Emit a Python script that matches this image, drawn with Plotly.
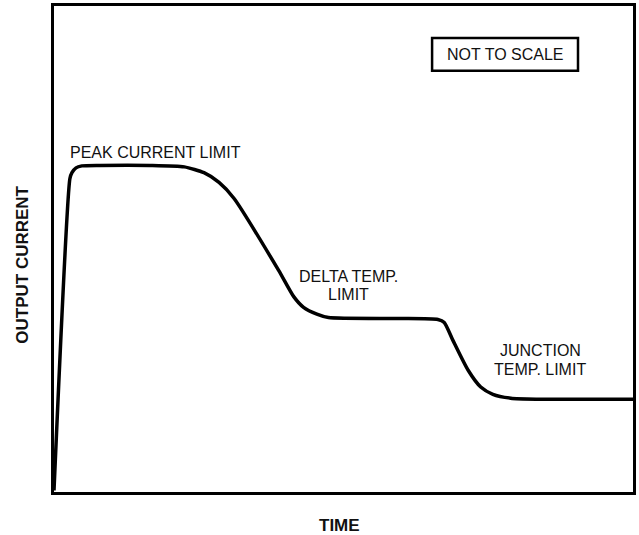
import plotly.graph_objects as go

# Curve (time in % of axis, output current in % of axis)
time_pts = [0.0, 2.75, 3.1, 3.8, 4.8, 7.9, 16.5, 22.5, 25.9, 28.5, 31.1, 38.8,
            41.4, 43.1, 45.4, 47.4, 59.5, 66.3, 67.4, 68.9, 71.5, 73.7, 75.8,
            78.9, 83.5, 100.0]
current_pts = [0.3, 64.5, 65.7, 66.7, 67.1, 67.2, 67.2, 66.9, 65.7, 63.7, 60.4, 45.6,
               40.2, 38.0, 36.6, 35.9, 35.7, 35.5, 34.9, 31.2, 25.1, 21.6, 20.1,
               19.3, 19.1, 19.1]

x_title = "TIME"
y_title = "OUTPUT CURRENT"
note_text = "NOT TO SCALE"
region_labels = ["PEAK CURRENT LIMIT", "DELTA TEMP.", "LIMIT", "JUNCTION", "TEMP. LIMIT"]
label_x = [17.5, 50.9, 50.9, 84.0, 84.0]
label_y = [69.8, 44.3, 40.6, 29.2, 25.3]

FONT = "Liberation Sans, Arial, sans-serif"

fig = go.Figure()
fig.add_trace(go.Scatter(
    x=time_pts, y=current_pts, mode="lines",
    line=dict(color="black", width=3.5, shape="spline", smoothing=0.6),
    hoverinfo="skip", showlegend=False,
))

annotations = []
for t, xx, yy in zip(region_labels, label_x, label_y):
    annotations.append(dict(x=xx, y=yy, xref="x", yref="y", text=t, showarrow=False,
                            font=dict(family=FONT, size=16, color="#111111"),
                            xanchor="center", yanchor="middle"))
annotations.append(dict(x=77.9, y=90.05, xref="x", yref="y", text=note_text, showarrow=False,
                        font=dict(family=FONT, size=16, color="#111111"),
                        xanchor="center", yanchor="middle"))
annotations.append(dict(x=0.493, y=-0.068, xref="paper", yref="paper", text="<b>%s</b>" % x_title,
                        showarrow=False, font=dict(family=FONT, size=17, color="#111111"),
                        xanchor="center", yanchor="middle"))
annotations.append(dict(x=-0.055, y=0.468, xref="paper", yref="paper", text="<b>%s</b>" % y_title,
                        showarrow=False, textangle=-90,
                        font=dict(family=FONT, size=17, color="#111111"),
                        xanchor="center", yanchor="middle"))

fig.update_layout(
    width=639, height=535,
    margin=dict(l=54, r=3, t=5, b=43),
    paper_bgcolor="white", plot_bgcolor="white",
    xaxis=dict(range=[0, 100], showgrid=False, zeroline=False, showticklabels=False,
               ticks="", showline=True, linecolor="black", linewidth=2.5, mirror=True),
    yaxis=dict(range=[0, 100], showgrid=False, zeroline=False, showticklabels=False,
               ticks="", showline=True, linecolor="black", linewidth=2.5, mirror=True),
    shapes=[dict(type="rect", xref="x", yref="y", x0=65.3, x1=90.5, y0=86.7, y1=93.4,
                 line=dict(color="black", width=2.5), fillcolor="rgba(0,0,0,0)")],
    annotations=annotations,
)

fig.write_html("out.html", config={"displayModeBar": False},
               post_script="document.body.style.margin='0';document.body.style.overflow='hidden';")
